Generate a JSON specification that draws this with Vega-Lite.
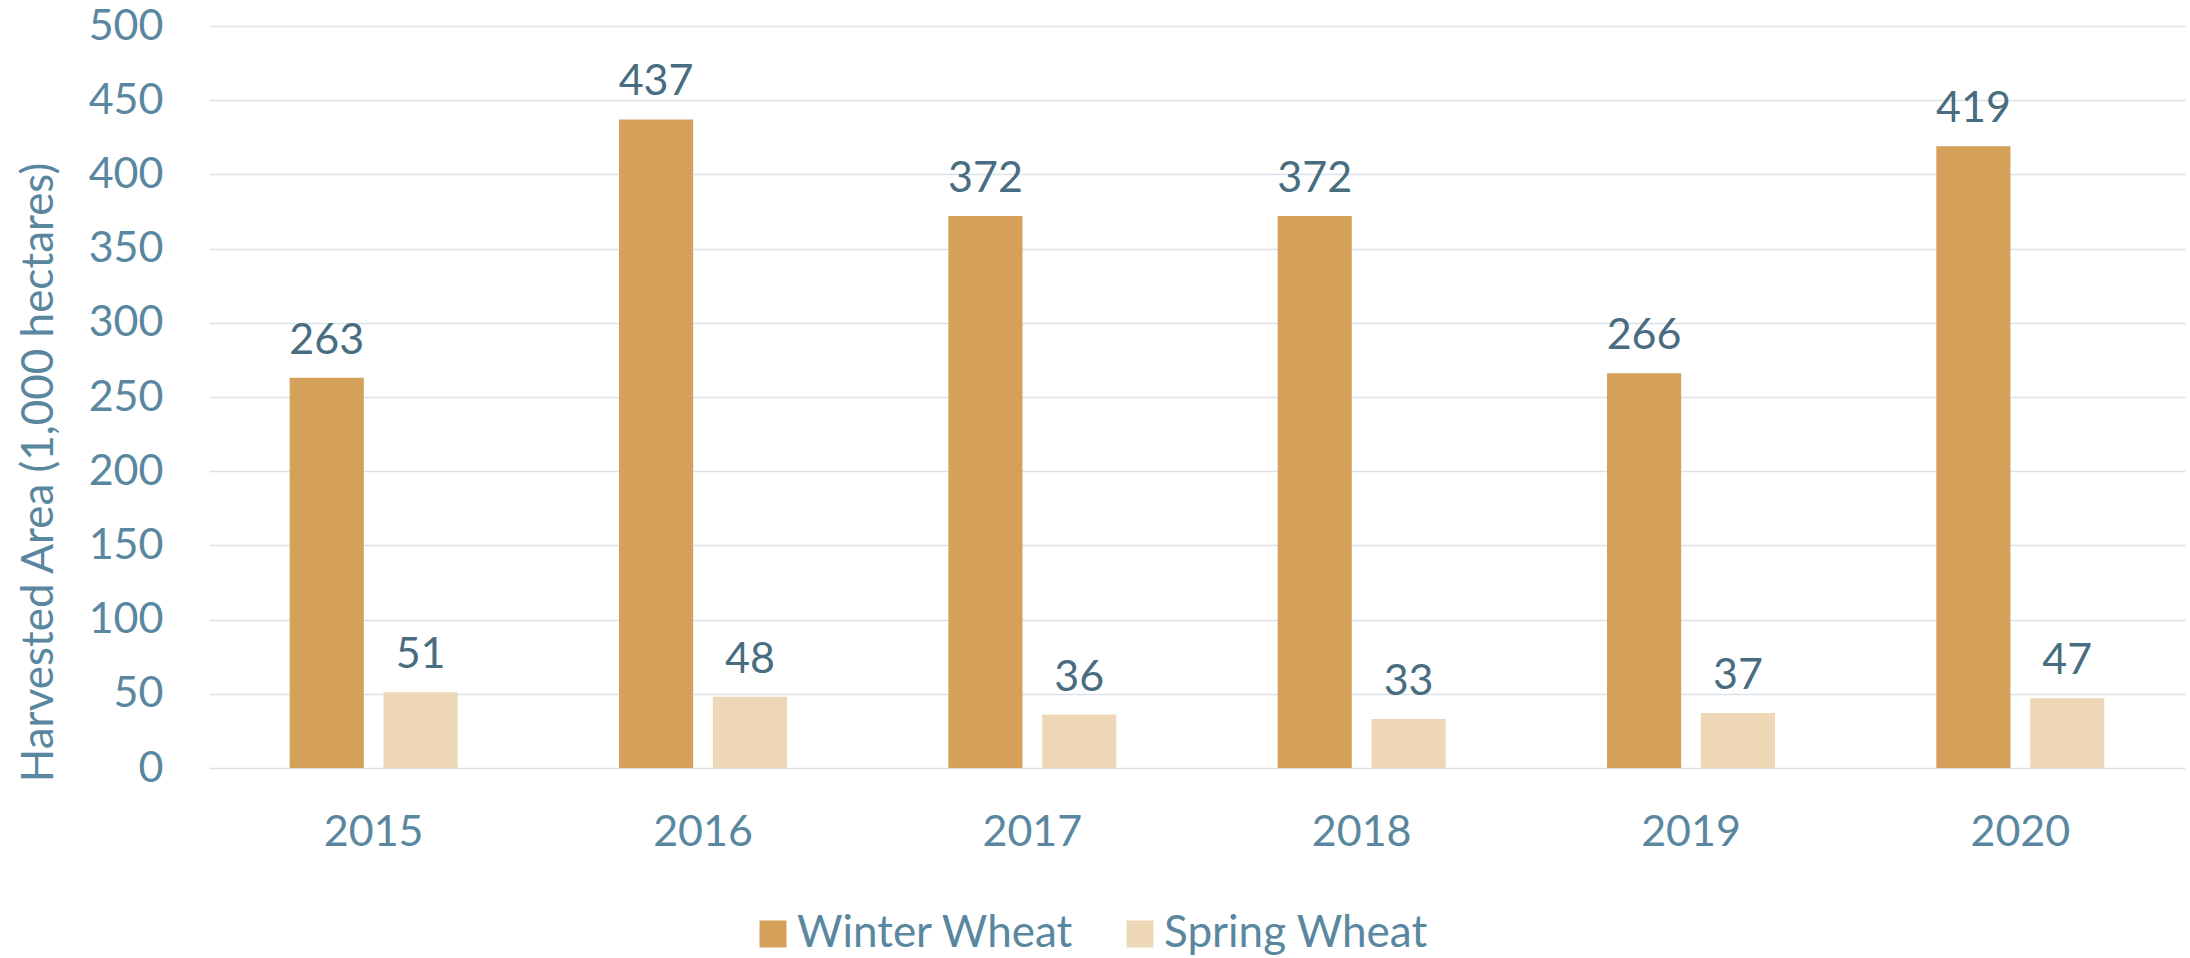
{
  "$schema": "https://vega.github.io/schema/vega-lite/v6.json",
  "width": 1976,
  "height": 742,
  "autosize": {"type": "none"},
  "padding": {"left": 209, "top": 26, "right": 5, "bottom": 190},
  "background": "white",
  "config": {
    "view": {"stroke": null},
    "font": "Lato"
  },
  "data": {
    "values": [
      {"year": "2015", "type": "Winter Wheat", "value": 263},
      {"year": "2015", "type": "Spring Wheat", "value": 51},
      {"year": "2016", "type": "Winter Wheat", "value": 437},
      {"year": "2016", "type": "Spring Wheat", "value": 48},
      {"year": "2017", "type": "Winter Wheat", "value": 372},
      {"year": "2017", "type": "Spring Wheat", "value": 36},
      {"year": "2018", "type": "Winter Wheat", "value": 372},
      {"year": "2018", "type": "Spring Wheat", "value": 33},
      {"year": "2019", "type": "Winter Wheat", "value": 266},
      {"year": "2019", "type": "Spring Wheat", "value": 37},
      {"year": "2020", "type": "Winter Wheat", "value": 419},
      {"year": "2020", "type": "Spring Wheat", "value": 47}
    ]
  },
  "encoding": {
    "x": {
      "field": "year",
      "type": "nominal",
      "scale": {"paddingInner": 0.49, "paddingOuter": 0.245},
      "axis": {
        "title": null,
        "labelAngle": 0,
        "labelFont": "Lato",
        "labelFontSize": 43,
        "labelColor": "#5a87a0",
        "labelPadding": 43,
        "ticks": false,
        "domain": false,
        "grid": false
      }
    },
    "xOffset": {
      "field": "type",
      "type": "nominal",
      "sort": ["Winter Wheat", "Spring Wheat"],
      "scale": {"paddingInner": 0.21, "paddingOuter": 0}
    },
    "y": {
      "field": "value",
      "type": "quantitative",
      "scale": {"domain": [0, 500], "nice": false},
      "axis": {
        "title": "Harvested Area (1,000 hectares)",
        "values": [0, 50, 100, 150, 200, 250, 300, 350, 400, 450, 500],
        "labelFont": "Lato",
        "labelFontSize": 43,
        "labelColor": "#5a87a0",
        "labelPadding": 46,
        "ticks": false,
        "domain": false,
        "grid": true,
        "gridColor": "#d9e2ea",
        "gridWidth": 1.5,
        "titleFont": "Lato",
        "titleFontSize": 44,
        "titleFontWeight": "normal",
        "titleColor": "#5a87a0",
        "titleAngle": -90,
        "titleAlign": "center",
        "titleBaseline": "middle",
        "titleX": -170,
        "titleY": 446
      }
    }
  },
  "layer": [
    {
      "mark": {"type": "bar"},
      "encoding": {
        "color": {
          "field": "type",
          "type": "nominal",
          "sort": ["Winter Wheat", "Spring Wheat"],
          "scale": {
            "domain": ["Winter Wheat", "Spring Wheat"],
            "range": ["#d4a05a", "#eed7b6"]
          },
          "legend": {
            "title": null,
            "orient": "none",
            "direction": "horizontal",
            "legendX": 542,
            "legendY": 886,
            "padding": 0,
            "symbolType": "square",
            "symbolSize": 729,
            "symbolStrokeWidth": 0,
            "symbolOpacity": 1,
            "labelFont": "Lato",
            "labelFontSize": 44,
            "labelColor": "#5a87a0",
            "labelOffset": 2,
            "columnPadding": 44,
            "labelLimit": 400
          }
        }
      }
    },
    {
      "mark": {
        "type": "text",
        "baseline": "alphabetic",
        "dy": -24,
        "font": "Lato",
        "fontSize": 43,
        "color": "#486c80"
      },
      "encoding": {
        "text": {"field": "value", "type": "quantitative"}
      }
    }
  ]
}
